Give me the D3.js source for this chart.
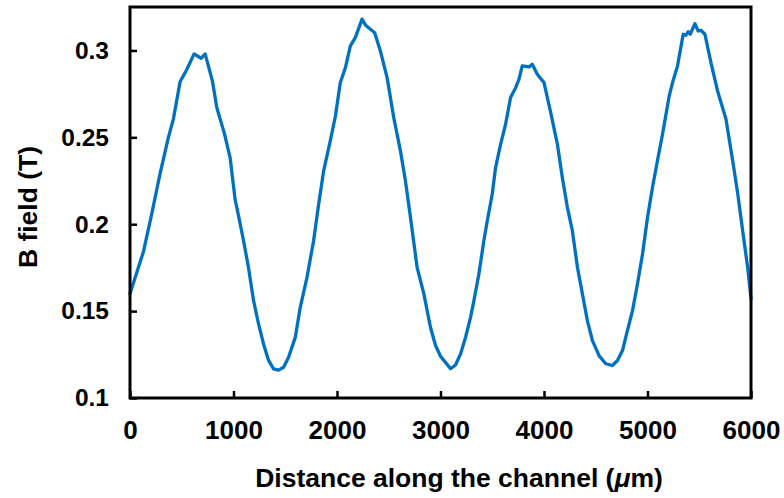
<!DOCTYPE html>
<html>
<head>
<meta charset="utf-8">
<script src="https://cdn.jsdelivr.net/npm/d3@7"></script>
<style>
  html, body { margin: 0; padding: 0; background: #fff; }
  text { font-family: "Liberation Sans", Arial, sans-serif; font-weight: bold; fill: #000; }
</style>
</head>
<body>
<svg id="chart" width="784" height="498"></svg>
<script>
// Measured magnetic field along the channel
const distance = [0, 80, 129, 210, 290, 371, 419, 484, 549, 619, 687, 726, 796, 839, 913, 968, 1016, 1032,
  1097, 1145, 1194, 1242, 1290, 1339, 1387, 1435, 1484, 1532, 1597, 1645, 1710, 1774, 1823, 1871, 1935,
  1984, 2032, 2081, 2129, 2177, 2242, 2274, 2364, 2419, 2484, 2548, 2613, 2661, 2710, 2774, 2839, 2903,
  2952, 3000, 3048, 3097, 3145, 3194, 3242, 3290, 3323, 3371, 3419, 3452, 3500, 3532, 3581, 3629, 3677,
  3726, 3758, 3790, 3855, 3887, 3935, 4000, 4064, 4129, 4177, 4226, 4274, 4323, 4371, 4419, 4468, 4532,
  4597, 4661, 4710, 4758, 4806, 4855, 4903, 4952, 5000, 5048, 5096, 5145, 5210, 5242, 5290, 5345, 5371,
  5393, 5413, 5458, 5490, 5516, 5555, 5613, 5677, 5758, 5823, 5871, 5920, 5968, 6000];
const bField = [0.160, 0.175, 0.184, 0.206, 0.229, 0.250, 0.2605, 0.282, 0.289, 0.298, 0.2955, 0.298, 0.2825,
  0.267, 0.252, 0.238, 0.214, 0.2097, 0.1905, 0.175, 0.156, 0.1426, 0.1311, 0.1216, 0.1168, 0.1160, 0.1177,
  0.1234, 0.1349, 0.1522, 0.1694, 0.1905, 0.2116, 0.2307, 0.248, 0.262, 0.2815, 0.290, 0.3026, 0.3074,
  0.3180, 0.3147, 0.3102, 0.2997, 0.2844, 0.2614, 0.2422, 0.225, 0.2039, 0.1752, 0.1599, 0.1407, 0.1302,
  0.1240, 0.1205, 0.1168, 0.1190, 0.1254, 0.1349, 0.1464, 0.156, 0.1714, 0.1905, 0.202, 0.2174, 0.2326,
  0.2461, 0.2576, 0.2729, 0.2786, 0.2834, 0.2911, 0.2905, 0.292, 0.2863, 0.2815, 0.2645, 0.2461, 0.2269,
  0.2097, 0.1963, 0.1752, 0.1599, 0.1445, 0.133, 0.1244, 0.1197, 0.1187, 0.1216, 0.1273, 0.1388, 0.1503,
  0.1656, 0.1829, 0.2039, 0.2211, 0.2365, 0.2518, 0.2739, 0.2815, 0.2911, 0.3093, 0.3087, 0.3108, 0.3093,
  0.3154, 0.3112, 0.3116, 0.3093, 0.293, 0.2767, 0.2605, 0.2365, 0.218, 0.196, 0.175, 0.157];

const xTicks = [0, 1000, 2000, 3000, 4000, 5000, 6000];
const yTicks = [0.1, 0.15, 0.2, 0.25, 0.3];
const xTitleText = "Distance along the channel (";
const xTitleUnit = "\u03BC";
const xTitleTail = "m)";
const yTitle = "B field (T)";

const svg = d3.select("#chart");
const plotLeft = 130, plotRight = 751, plotTop = 7, plotBottom = 398;

const x = d3.scaleLinear().domain([0, 6000]).range([plotLeft, plotRight]);
const y = d3.scaleLinear().domain([0.1, 0.325]).range([plotBottom, plotTop]);

// Data line
const line = d3.line().x((d, i) => x(distance[i])).y(d => y(d));
svg.append("path")
  .datum(bField)
  .attr("d", line)
  .attr("fill", "none")
  .attr("stroke", "#0070C0")
  .attr("stroke-width", 3.3)
  .attr("stroke-linejoin", "round")
  .attr("stroke-linecap", "round");

// Frame
svg.append("rect")
  .attr("x", plotLeft).attr("y", plotTop)
  .attr("width", plotRight - plotLeft).attr("height", plotBottom - plotTop)
  .attr("fill", "none").attr("stroke", "#000").attr("stroke-width", 3);

// Bottom axis: inward ticks
const xAxis = d3.axisBottom(x).tickValues(xTicks).tickSizeInner(-7).tickSizeOuter(0)
  .tickPadding(23).tickFormat(d3.format("d"));
const gx = svg.append("g").attr("transform", `translate(0,${plotBottom})`).call(xAxis);
gx.select(".domain").remove();
gx.selectAll(".tick line").attr("stroke", "#000").attr("stroke-width", 2.5);
gx.selectAll(".tick text").attr("font-size", 26).attr("font-family", "Liberation Sans, Arial, sans-serif")
  .attr("font-weight", "bold").attr("fill", "#000");

// Left axis: inward ticks
const yAxis = d3.axisLeft(y).tickValues(yTicks).tickSizeInner(-7).tickSizeOuter(0)
  .tickPadding(21).tickFormat(d => String(+d.toFixed(2)));
const gy = svg.append("g").attr("transform", `translate(${plotLeft},0)`).call(yAxis);
gy.select(".domain").remove();
gy.selectAll(".tick line").attr("stroke", "#000").attr("stroke-width", 2.5);
gy.selectAll(".tick text").attr("font-size", 24.5).attr("font-family", "Liberation Sans, Arial, sans-serif")
  .attr("font-weight", "bold").attr("fill", "#000");

// Axis titles
const xt = svg.append("text")
  .attr("x", 459).attr("y", 487)
  .attr("text-anchor", "middle")
  .attr("font-size", 26.5);
xt.append("tspan").text(xTitleText);
xt.append("tspan").attr("font-style", "italic").text(xTitleUnit);
xt.append("tspan").text(xTitleTail);

svg.append("text")
  .attr("transform", "translate(37,207) rotate(-90)")
  .attr("text-anchor", "middle")
  .attr("font-size", 26.5)
  .text(yTitle);
</script>
</body>
</html>
